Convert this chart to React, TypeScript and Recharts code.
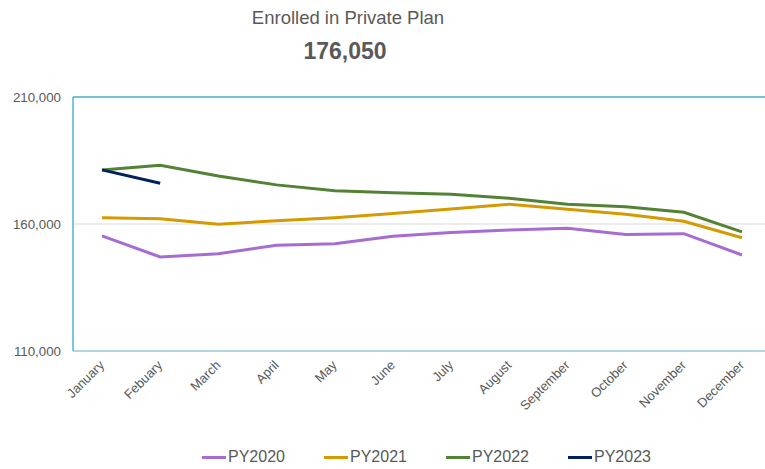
import { CartesianGrid, Legend, Line, LineChart, ReferenceLine, XAxis, YAxis } from 'recharts';

const months = ['January', 'Febuary', 'March', 'April', 'May', 'June', 'July', 'August', 'September', 'October', 'November', 'December'];
const py2020 = [155300, 147000, 148300, 151600, 152200, 155200, 156700, 157600, 158300, 155900, 156200, 147800];
const py2021 = [162500, 162100, 159900, 161300, 162500, 164100, 165900, 167800, 165800, 163800, 161100, 154600];
const py2022 = [181300, 183100, 178900, 175400, 173100, 172300, 171700, 170100, 167800, 166800, 164600, 156900];
const py2023 = [181300, 176050];
const yTicks = [110000, 160000, 210000];

const series = [
  { key: 'PY2020', values: py2020, color: '#a66cd2' },
  { key: 'PY2021', values: py2021, color: '#d49a00' },
  { key: 'PY2022', values: py2022, color: '#548235' },
  { key: 'PY2023', values: py2023, color: '#002060' },
];

const data = months.map((m, i) => {
  const row: Record<string, string | number | undefined> = { month: m };
  series.forEach((s) => {
    row[s.key] = s.values[i];
  });
  return row;
});

const FONT = '"Liberation Sans", Arial, sans-serif';
const GRAY = '#595959';

function MonthTick({ x, y, payload }: any) {
  const tx = x + 3;
  const ty = y + 15;
  return (
    <text x={tx} y={ty} transform={`rotate(-45, ${tx}, ${ty})`} textAnchor="end" fontSize={13} fill={GRAY} fontFamily={FONT}>
      {payload.value}
    </text>
  );
}

function LegendRow() {
  return (
    <div style={{ display: 'flex', alignItems: 'center', height: 20, paddingLeft: 202, fontFamily: FONT }}>
      {series.map((s) => (
        <div key={s.key} style={{ display: 'flex', alignItems: 'center', width: 122 }}>
          <div style={{ width: 24, height: 3, background: s.color }} />
          <span style={{ marginLeft: 2, fontSize: 16, color: GRAY }}>{s.key}</span>
        </div>
      ))}
    </div>
  );
}

export default function App() {
  return (
    <div style={{ position: 'absolute', left: 0, top: 0, width: 765, height: 469, overflow: 'hidden', background: '#fff' }}>
      <svg width={765} height={80} style={{ position: 'absolute', left: 0, top: 0 }}>
        <text x={348} y={24} textAnchor="middle" fontSize={18.5} fill={GRAY} fontFamily={FONT}>
          Enrolled in Private Plan
        </text>
        <text x={345} y={59} textAnchor="middle" fontSize={23} fontWeight="bold" fill={GRAY} fontFamily={FONT}>
          176,050
        </text>
      </svg>
      <LineChart width={772} height={469} data={data} margin={{ top: 97, right: 1, bottom: 2, left: 0 }}>
        <CartesianGrid vertical={false} stroke="#d9d9d9" />
        <XAxis
          dataKey="month"
          interval={0}
          height={96}
          padding={{ left: 29, right: 29 }}
          tickLine={false}
          tickSize={0}
          tickMargin={0}
          axisLine={{ stroke: '#9fd1e0', strokeWidth: 1.5 }}
          tick={<MonthTick />}
        />
        <YAxis
          width={73}
          domain={[110000, 210000]}
          ticks={yTicks}
          tickLine={false}
          tickSize={0}
          tickMargin={12}
          axisLine={{ stroke: '#4fb3cf', strokeWidth: 1.5 }}
          tick={{ fontSize: 13.3, fill: GRAY, fontFamily: FONT }}
          tickFormatter={(v: number) => v.toLocaleString('en-US')}
        />
        <ReferenceLine y={210000} stroke="#4fb3cf" strokeWidth={1.5} />
        {series.map((s) => (
          <Line
            key={s.key}
            dataKey={s.key}
            stroke={s.color}
            strokeWidth={3}
            dot={false}
            activeDot={false}
            isAnimationActive={false}
          />
        ))}
        <Legend verticalAlign="bottom" wrapperStyle={{ left: 0, width: 772, height: 20 }} content={() => <LegendRow />} />
      </LineChart>
    </div>
  );
}
